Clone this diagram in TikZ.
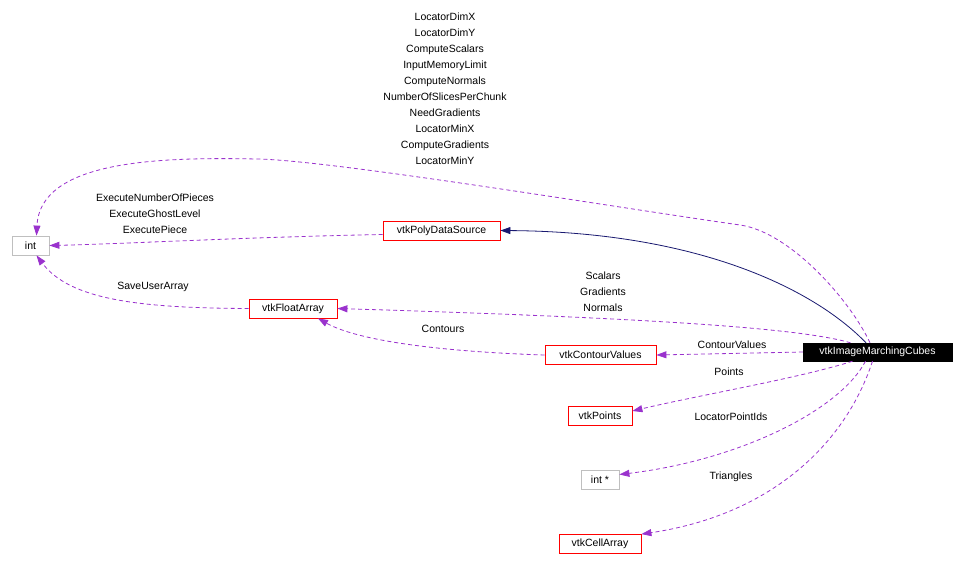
\documentclass[tikz,border=0pt]{standalone}
\usepackage{fontspec}
\setmainfont{Liberation Sans}
\usetikzlibrary{arrows.meta}
\definecolor{edgepurple}{HTML}{9A32CD}
\definecolor{edgenavy}{HTML}{191970}
\definecolor{boxgrey}{HTML}{BFBFBF}
\tikzset{
  cls/.style={draw=red, line width=0.8pt, fill=white, inner sep=0pt, minimum height=19pt, font=\fontsize{10.5}{12}\selectfont},
  plain/.style={draw=boxgrey, line width=0.8pt, fill=white, inner sep=0pt, minimum height=19pt, font=\fontsize{10.5}{12}\selectfont},
  focus/.style={draw=black, fill=black, text=white, inner sep=0pt, minimum height=18pt, font=\fontsize{10.5}{12}\selectfont},
  uses/.style={draw=edgepurple, line width=0.8pt, dash pattern=on 4pt off 3pt, -{Triangle[length=10pt,width=7pt]}},
  inherits/.style={draw=edgenavy, line width=0.8pt, -{Triangle[length=10pt,width=7pt]}},
  lbl/.style={anchor=base, inner sep=0pt, align=center, font=\fontsize{10.5}{16}\selectfont}
}
\begin{document}
\begin{tikzpicture}[x=1pt,y=-1pt]
\useasboundingbox (0,0) rectangle (965,570);
% nodes
\node[plain, minimum width=37pt] (int) at (30.5,245.5) {int};
\node[cls, minimum width=117pt] (vps) at (441.5,230.5) {vtkPolyDataSource};
\node[cls, minimum width=88pt] (vfa) at (293,308.5) {vtkFloatArray};
\node[cls, minimum width=111pt] (vcv) at (600.5,355) {vtkContourValues};
\node[focus, minimum width=149pt] (mc) at (877.5,352) {vtkImageMarchingCubes};
\node[cls, minimum width=64pt] (vpts) at (600,416) {vtkPoints};
\node[plain, minimum width=38pt] (intp) at (600,479.5) {int *};
\node[cls, minimum width=82pt] (vca) at (600,544) {vtkCellArray};
% connectors
\draw[inherits] ([xshift=-11.5pt]mc.north) .. controls (815,290) and (700,232) .. (vps.east);
\draw[uses] ([xshift=-7.5pt]mc.north) .. controls (850,300) and (790,232) .. (740,225)
   .. controls (620,208) and (330,160) .. (257,159)
   .. controls (160,157) and (40,160) .. ([xshift=6pt]int.north);
\draw[uses] ([yshift=-4pt]vps.west) .. controls (250,237) and (120,244) .. (int.east);
\draw[uses] (vfa.west) .. controls (140,308) and (70,300) .. ([xshift=6pt]int.south);
\draw[uses] ([xshift=-27pt]mc.north) .. controls (800,328) and (650,318) .. (vfa.east);
\draw[uses] (vcv.west) .. controls (450,352) and (360,342) .. ([xshift=25pt]vfa.south);
\draw[uses] (mc.west) -- (vcv.east);
\draw[uses] ([xshift=-25pt]mc.south) .. controls (800,378) and (700,395) .. ([yshift=5pt]vpts.east);
\draw[uses] ([xshift=-12pt]mc.south) .. controls (840,410) and (740,460) .. ([yshift=5pt]intp.east);
\draw[uses] ([xshift=-5pt]mc.south) .. controls (845,445) and (770,515) .. (vca.north east);
% labels (base = baseline of the last line)
\node[lbl] (l1) at (445,164) {LocatorDimX\\LocatorDimY\\ComputeScalars\\InputMemoryLimit\\ComputeNormals\\NumberOfSlicesPerChunk\\NeedGradients\\LocatorMinX\\ComputeGradients\\LocatorMinY};
\node[lbl] (l2) at (155,233) {ExecuteNumberOfPieces\\ExecuteGhostLevel\\ExecutePiece};
\node[lbl] (l3) at (153,289) {SaveUserArray};
\node[lbl] (l4) at (603,311) {Scalars\\Gradients\\Normals};
\node[lbl] (l5) at (443,332) {Contours};
\node[lbl] (l6) at (732,348) {ContourValues};
\node[lbl] (l7) at (729,375) {Points};
\node[lbl] (l8) at (731,420) {LocatorPointIds};
\node[lbl] (l9) at (731,479) {Triangles};
\end{tikzpicture}
\end{document}
